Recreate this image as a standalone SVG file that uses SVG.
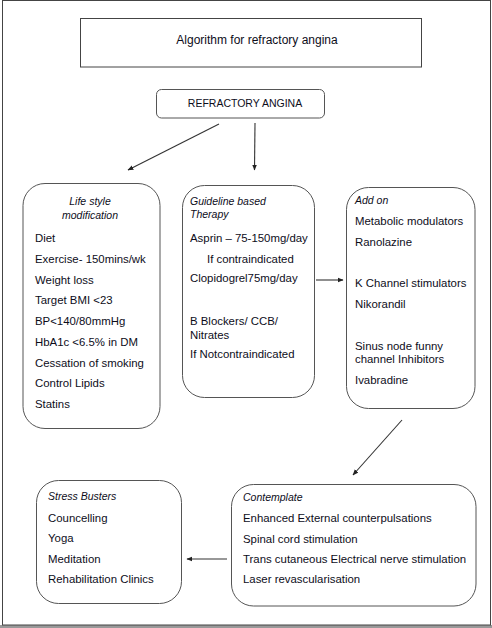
<svg xmlns="http://www.w3.org/2000/svg" width="492" height="628" viewBox="0 0 492 628">
<defs>
<marker id="ah" viewBox="0 0 10 10" refX="9" refY="5" markerWidth="6" markerHeight="6" orient="auto" markerUnits="userSpaceOnUse">
<path d="M0,1 L10,5 L0,9 z" fill="#222"/>
</marker>
<style>
text{font-family:"Liberation Sans",Arial,sans-serif;font-size:11.4px;fill:#0d0d1a;}
.it{font-style:italic;font-size:10.5px;}
.cap{font-size:10.5px;}
.ttl{font-size:12px;}
.box{fill:#fff;stroke:#555;stroke-width:1;}
.conn{stroke:#333;stroke-width:1.1;fill:none;marker-end:url(#ah);}
</style>
</defs>
<rect x="0" y="0" width="492" height="628" fill="#fff"/>
<rect x="0" y="625" width="492" height="3" fill="#999"/>
<rect x="2.5" y="0.5" width="488" height="624.5" fill="none" stroke="#444" stroke-width="1"/>
<g id="title">
<rect x="80.5" y="18.5" width="341" height="48.5" fill="#fff" stroke="#444"/>
<text class="ttl" x="257" y="44" text-anchor="middle">Algorithm for refractory angina</text>
</g>
<g id="refractory">
<rect class="box" x="156.5" y="89.5" width="168" height="28.5" rx="5"/>
<text class="cap" x="245" y="107" text-anchor="middle">REFRACTORY ANGINA</text>
</g>
<g id="lifestyle">
<rect class="box" x="23" y="183.5" width="137" height="245" rx="22"/>
<text class="it" x="90" y="205" text-anchor="middle">Life style</text>
<text class="it" x="90" y="219" text-anchor="middle">modification</text>
<text x="35" y="242">Diet</text>
<text x="35" y="263">Exercise- 150mins/wk</text>
<text x="35" y="284">Weight loss</text>
<text x="35" y="304">Target BMI &lt;23</text>
<text x="35" y="325">BP&lt;140/80mmHg</text>
<text x="35" y="346">HbA1c &lt;6.5% in DM</text>
<text x="35" y="367">Cessation of smoking</text>
<text x="35" y="387">Control Lipids</text>
<text x="35" y="408">Statins</text>
</g>
<g id="guideline">
<rect class="box" x="182.5" y="185.5" width="132" height="212" rx="22"/>
<text class="it" x="190" y="205">Guideline based</text>
<text class="it" x="190" y="218">Therapy</text>
<text x="190" y="242">Asprin – 75-150mg/day</text>
<text x="207" y="263">If contraindicated</text>
<text x="190" y="282">Clopidogrel75mg/day</text>
<text x="190" y="325">B Blockers/ CCB/</text>
<text x="190" y="339">Nitrates</text>
<text x="190" y="358">If Notcontraindicated</text>
</g>
<g id="addon">
<rect class="box" x="346.5" y="187.5" width="128.5" height="221" rx="22"/>
<text class="it" x="355" y="204">Add on</text>
<text x="355" y="225">Metabolic modulators</text>
<text x="355" y="246">Ranolazine</text>
<text x="355" y="287">K Channel stimulators</text>
<text x="355" y="308">Nikorandil</text>
<text x="355" y="350">Sinus node funny</text>
<text x="355" y="363">channel Inhibitors</text>
<text x="355" y="384">Ivabradine</text>
</g>
<g id="stress">
<rect class="box" x="36.5" y="480.5" width="145" height="123" rx="22"/>
<text class="it" x="48" y="500">Stress Busters</text>
<text x="48" y="522">Councelling</text>
<text x="48" y="542">Yoga</text>
<text x="48" y="563">Meditation</text>
<text x="48" y="583">Rehabilitation Clinics</text>
</g>
<g id="contemplate">
<rect class="box" x="231.5" y="484.5" width="244.5" height="121.5" rx="22"/>
<text class="it" x="243" y="501">Contemplate</text>
<text x="243" y="522">Enhanced External counterpulsations</text>
<text x="243" y="543">Spinal cord stimulation</text>
<text x="243" y="563">Trans cutaneous Electrical nerve stimulation</text>
<text x="243" y="583">Laser revascularisation</text>
</g>
<g id="connectors">
<line class="conn" x1="219" y1="124" x2="128" y2="170"/>
<line class="conn" x1="255" y1="123" x2="254.5" y2="170"/>
<line class="conn" x1="316" y1="280" x2="343" y2="280"/>
<line class="conn" x1="402" y1="420" x2="353" y2="475"/>
<line class="conn" x1="227" y1="559" x2="187" y2="559"/>
</g>
</svg>
